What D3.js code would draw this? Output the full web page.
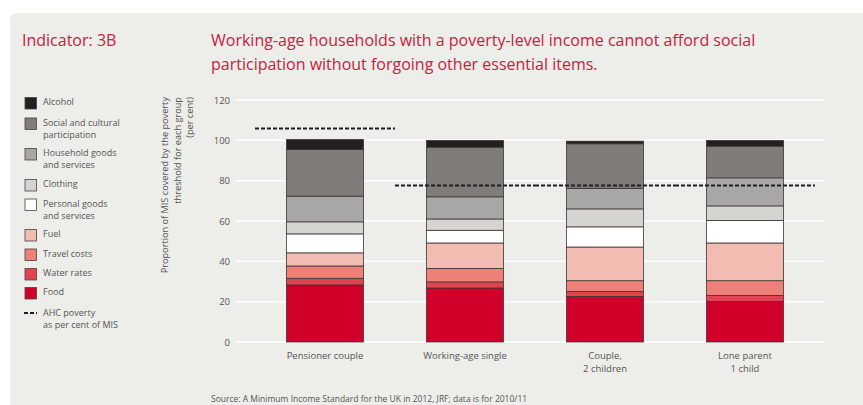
<!DOCTYPE html>
<html>
<head>
<meta charset="utf-8">
<script src="https://cdn.jsdelivr.net/npm/d3@7"></script>
<style>
  body { margin: 0; background: #fff; }
  text { font-family: "Open Sans", "DejaVu Sans", sans-serif; }
</style>
</head>
<body>
<div id="chart"></div>
<script>
var groups = ["Pensioner couple", "Working-age single", "Couple,\n2 children", "Lone parent\n1 child"];
var items = ["Food", "Water rates", "Travel costs", "Fuel", "Personal goods and services",
             "Clothing", "Household goods and services", "Social and cultural participation", "Alcohol"];
var food       = [28.3, 26.8, 22.6, 20.1];
var water      = [3.3, 3.0, 2.5, 3.0];
var travel     = [6.1, 6.7, 5.3, 7.3];
var fuel       = [6.5, 12.6, 16.7, 18.7];
var personal   = [9.4, 6.3, 10.0, 11.2];
var clothing   = [6.0, 5.6, 8.9, 7.2];
var household  = [12.7, 11.0, 10.2, 13.9];
var social     = [23.1, 24.6, 22.1, 15.7];
var alcohol    = [5.0, 3.3, 1.3, 2.8];
var povertyAHC = [105.9, 77.6, 77.6, 77.6];
var yTicks = [0, 20, 40, 60, 80, 100, 120];

var seriesValues = [food, water, travel, fuel, personal, clothing, household, social, alcohol];
var colors = ["#d0002b", "#e2444f", "#ee8078", "#f2bcb2", "#ffffff", "#d6d4d1", "#a9a7a5", "#7f7c79", "#231f20"];

var w = 863, h = 405;
var svg = d3.select("#chart").append("svg").attr("width", w).attr("height", h);

// panel
svg.append("path")
    .attr("d", "M10,405 L10,21 Q10,13 18,13 L863,13 L863,405 Z")
    .attr("fill", "#ededea");

var red = "#c8203e";
svg.append("text").attr("x", 22).attr("y", 46).attr("fill", red)
    .style("font-size", "16px").text("Indicator: 3B");
svg.append("text").attr("x", 211).attr("y", 46).attr("fill", red)
    .style("font-size", "16px").text("Working-age households with a poverty-level income cannot afford social");
svg.append("text").attr("x", 211).attr("y", 70).attr("fill", red)
    .style("font-size", "16px").text("participation without forgoing other essential items.");

var x = d3.scaleBand().domain(groups).range([255, 815]).paddingInner(0.45).paddingOuter(0.225);
var y = d3.scaleLinear().domain([0, 120]).range([342, 100]);

// gridlines
svg.append("g").selectAll("line").data(yTicks).join("line")
    .attr("x1", 235).attr("x2", 825)
    .attr("y1", function(d) { return y(d); }).attr("y2", function(d) { return y(d); })
    .attr("stroke", "#fff").attr("stroke-width", 1.5);

var yAxis = svg.append("g")
    .attr("transform", "translate(235,0)")
    .call(d3.axisLeft(y).tickValues(yTicks).tickSize(0).tickPadding(5));
yAxis.select(".domain").remove();
yAxis.selectAll("text").attr("fill", "#555").style("font-size", "9.5px")
    .style("font-family", "'Open Sans', sans-serif");

// y label
var yl = svg.append("text")
    .attr("transform", "translate(168,97) rotate(-90)")
    .attr("text-anchor", "end")
    .attr("fill", "#555")
    .style("font-size", "9.2px");
["Proportion of MIS covered by the poverty", "threshold for each group", "(per cent)"].forEach(function(s, i) {
  yl.append("tspan").attr("x", 0).attr("dy", i ? 12.5 : 0).text(s);
});

// stacked bars
var table = groups.map(function(g, i) {
  var row = {group: g};
  items.forEach(function(k, j) { row[k] = seriesValues[j][i]; });
  return row;
});
var stack = d3.stack().keys(items)(table);

svg.append("g").selectAll("g").data(stack).join("g")
    .attr("fill", function(d, i) { return colors[i]; })
  .selectAll("rect").data(function(d) { return d; }).join("rect")
    .attr("x", function(d) { return x(d.data.group); })
    .attr("width", x.bandwidth())
    .attr("y", function(d) { return y(d[1]); })
    .attr("height", function(d) { return y(d[0]) - y(d[1]); })
    .attr("stroke", "#3a3636").attr("stroke-width", 0.8);

// poverty lines
svg.append("g").selectAll("line").data(groups).join("line")
    .attr("x1", function(d) { return x(d) - x.step() * x.paddingInner() / 2; })
    .attr("x2", function(d) { return x(d) + x.bandwidth() + x.step() * x.paddingInner() / 2; })
    .attr("y1", function(d, i) { return y(povertyAHC[i]); })
    .attr("y2", function(d, i) { return y(povertyAHC[i]); })
    .attr("stroke", "#1e1e1e").attr("stroke-width", 2).attr("stroke-dasharray", "4,2");

// x labels
var xl = svg.append("g").selectAll("text").data(groups).join("text")
    .attr("x", function(d) { return x(d) + x.bandwidth() / 2; })
    .attr("y", 359)
    .attr("text-anchor", "middle")
    .attr("fill", "#555")
    .style("font-size", "9.5px");
xl.each(function(d) {
  var t = d3.select(this);
  d.split("\n").forEach(function(s, i) {
    t.append("tspan").attr("x", t.attr("x")).attr("dy", i ? 13 : 0).text(s);
  });
});

// legend
var legend = [
  {i: 8, y: 103.5, lines: ["Alcohol"]},
  {i: 7, y: 124, lines: ["Social and cultural", "participation"]},
  {i: 6, y: 154.5, lines: ["Household goods", "and services"]},
  {i: 5, y: 185.5, lines: ["Clothing"]},
  {i: 4, y: 205, lines: ["Personal goods", "and services"]},
  {i: 3, y: 235.5, lines: ["Fuel"]},
  {i: 2, y: 255, lines: ["Travel costs"]},
  {i: 1, y: 274.5, lines: ["Water rates"]},
  {i: 0, y: 293.5, lines: ["Food"]}
];
var lg = svg.append("g");
legend.forEach(function(l) {
  lg.append("rect").attr("x", 25).attr("y", l.y - 6).attr("width", 11.5).attr("height", 11.5)
      .attr("fill", colors[l.i]).attr("stroke", "#444").attr("stroke-width", 0.8);
  var t = lg.append("text").attr("x", 43).attr("y", l.y - 2).attr("fill", "#555").style("font-size", "9px");
  l.lines.forEach(function(s, k) {
    t.append("tspan").attr("x", 43).attr("dy", k ? 12 : 3.5).text(s);
  });
});
lg.append("line").attr("x1", 24).attr("x2", 37).attr("y1", 313).attr("y2", 313)
    .attr("stroke", "#1e1e1e").attr("stroke-width", 2).attr("stroke-dasharray", "4,2");
var at = lg.append("text").attr("x", 43).attr("y", 316).attr("fill", "#555").style("font-size", "9px");
at.append("tspan").attr("x", 43).text("AHC poverty");
at.append("tspan").attr("x", 43).attr("dy", 12).text("as per cent of MIS");

svg.append("text").attr("x", 211).attr("y", 402).attr("fill", "#555")
    .style("font-size", "8.5px")
    .text("Source: A Minimum Income Standard for the UK in 2012, JRF; data is for 2010/11");
</script>
</body>
</html>
